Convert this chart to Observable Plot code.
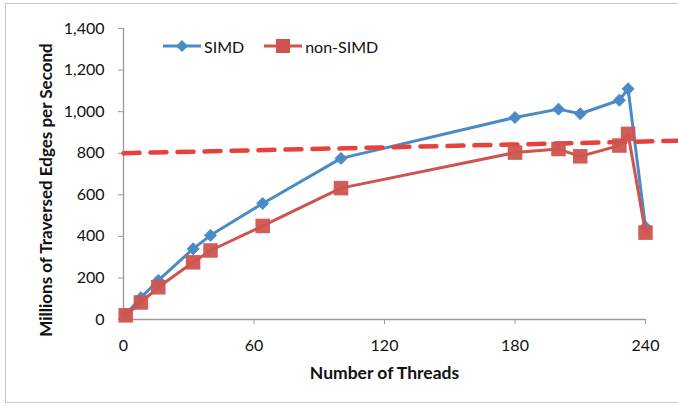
<!DOCTYPE html>
<html>
<head>
<meta charset="utf-8">
<script src="https://cdn.jsdelivr.net/npm/d3@7"></script>
<script src="https://cdn.jsdelivr.net/npm/@observablehq/plot@0.6"></script>
<style>
  html, body { margin: 0; padding: 0; background: #fff; }
  #wrap { position: relative; width: 678px; height: 407px; overflow: hidden; }
  #frame { position: absolute; left: 5px; top: 3px; width: 690px; height: 400px; border: 1.5px solid #c8c8c8; box-sizing: border-box; pointer-events: none; }
  #legend { position: absolute; left: 163px; top: 36px; font: 16px Lato, "Open Sans", sans-serif; color: #111; display: flex; align-items: center; }
  #legend .item { display: flex; align-items: center; margin-right: 20px; }
  #legend svg { display: block; margin-right: 3px; }
</style>
</head>
<body>
<div id="wrap">
  <div id="chart"></div>
  <div id="frame"></div>
  <div id="legend"></div>
</div>
<script>
// Threads (x) and Millions of Traversed Edges per Second (y)
const simdThreads = [1, 8, 16, 32, 40, 64, 100, 180, 200, 210, 228, 232, 240];
const simdValues  = [25, 105, 188, 340, 405, 558, 775, 972, 1012, 990, 1055, 1110, 445];
const nonSimdThreads = [1, 8, 16, 32, 40, 64, 100, 180, 200, 210, 228, 232, 240];
const nonSimdValues  = [20, 82, 155, 275, 332, 450, 632, 803, 820, 785, 837, 893, 418];
const trendThreads = [0, 256];
const trendValues  = [800, 860];
const yTicks = [0, 200, 400, 600, 800, 1000, 1200, 1400];
const xTicks = [0, 60, 120, 180, 240];
const seriesNames = ["SIMD", "non-SIMD"];

const blue = "#4a8bc6";
const red = "#cf5450";
const dashRed = "#e8403b";

const simd = simdThreads.map((t, i) => ({x: t, y: simdValues[i]}));
const nonSimd = nonSimdThreads.map((t, i) => ({x: t, y: nonSimdValues[i]}));
const trend = trendThreads.map((t, i) => ({x: t, y: trendValues[i]}));

const chart = Plot.plot({
  width: 678,
  height: 407,
  marginLeft: 123,
  marginRight: 33,
  marginTop: 28,
  marginBottom: 88,
  style: {fontFamily: "Lato, 'Open Sans', sans-serif", fontSize: "16px", color: "#111", background: "transparent", overflow: "visible"},
  x: {domain: [0, 240], ticks: xTicks, label: null},
  y: {domain: [0, 1400], ticks: yTicks, label: null},
  marks: [
    Plot.ruleX([0], {stroke: "#999", strokeWidth: 1.3}),
    Plot.ruleY([0], {stroke: "#999", strokeWidth: 1.3, x1: -2, x2: 240}),
    Plot.axisY({ticks: yTicks, tickFormat: d3.format(","), tickSize: 5, tickPadding: 14, stroke: "#999", fontSize: 16, fill: "#111", label: null}),
    Plot.axisX({ticks: xTicks.filter(d => d > 0), tickFormat: () => "", tickSize: 5, stroke: "#999", label: null}),
    Plot.axisX({ticks: xTicks, tickSize: 0, tickPadding: 20, fontSize: 16, fill: "#111", label: null}),
    Plot.line(simd, {x: "x", y: "y", stroke: blue, strokeWidth: 3}),
    Plot.dot(simd, {x: "x", y: "y", symbol: "diamond2", r: 5.4, fill: blue, stroke: blue, strokeWidth: 1}),
    Plot.line(nonSimd, {x: "x", y: "y", stroke: red, strokeWidth: 3}),
    Plot.line(trend, {x: "x", y: "y", stroke: dashRed, strokeWidth: 4.5, strokeDasharray: "16,11", clip: false}),
    Plot.dot(nonSimd, {x: "x", y: "y", symbol: "square", r: 8.2, fill: red, fillOpacity: 0.95, stroke: "none"}),
    Plot.text(["Number of Threads"], {frameAnchor: "bottom", dy: 59, fontWeight: "bold", fontSize: 17.5, fill: "#111"}),
    Plot.text(["Millions of Traversed Edges per Second"], {frameAnchor: "left", textAnchor: "middle", dx: -77, dy: 16, rotate: -90, fontWeight: "bold", fontSize: 17, fill: "#111"})
  ]
});
document.getElementById("chart").appendChild(chart);

// legend
const legend = document.getElementById("legend");
function addItem(name, color, shape) {
  const item = document.createElement("div");
  item.className = "item";
  const ns = "http://www.w3.org/2000/svg";
  const svg = document.createElementNS(ns, "svg");
  svg.setAttribute("width", 38); svg.setAttribute("height", 20);
  const line = document.createElementNS(ns, "line");
  line.setAttribute("x1", 0); line.setAttribute("x2", 38);
  line.setAttribute("y1", 10); line.setAttribute("y2", 10);
  line.setAttribute("stroke", color); line.setAttribute("stroke-width", 3);
  svg.appendChild(line);
  const p = document.createElementNS(ns, "path");
  if (shape === "diamond") p.setAttribute("d", "M19,4L25,10L19,16L13,10Z");
  else p.setAttribute("d", "M12,3H26V17H12Z");
  p.setAttribute("fill", color);
  svg.appendChild(p);
  item.appendChild(svg);
  const span = document.createElement("span");
  span.textContent = name;
  item.appendChild(span);
  legend.appendChild(item);
}
addItem(seriesNames[0], blue, "diamond");
addItem(seriesNames[1], red, "square");
</script>
</body>
</html>
